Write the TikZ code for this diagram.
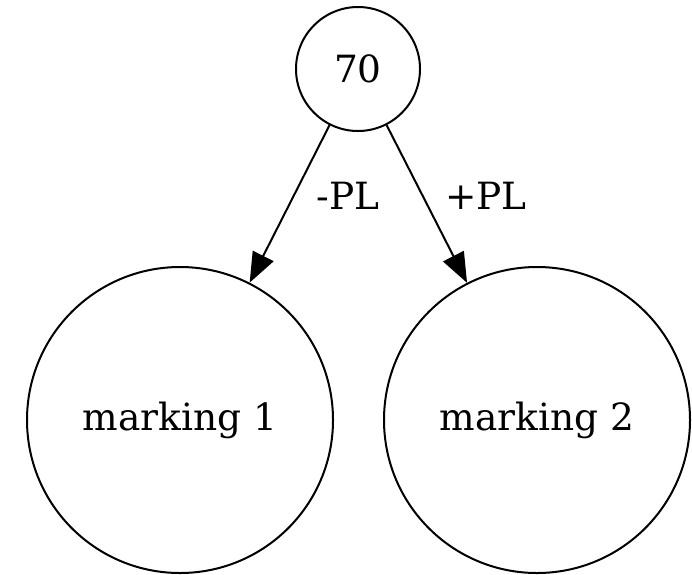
\documentclass[tikz,border=0pt]{standalone}
\usepackage{fontspec}
\setmainfont{DejaVu Serif}
\usetikzlibrary{arrows.meta}
\begin{document}
\begin{tikzpicture}[x=1pt,y=-1pt,
  state/.style={draw, circle, line width=2pt, inner sep=0pt, font=\fontsize{37.5}{42}\selectfont},
  edge/.style={line width=2pt, -{Triangle[length=30pt,width=23pt]}},
  elabel/.style={font=\fontsize{37.5}{42}\selectfont}]
  \useasboundingbox (0,0) rectangle (692,574);
  \node[state, minimum size=124pt] (top) at (358,69) {70};
  \node[state, minimum size=306pt] (m1) at (180,420) {marking 1};
  \node[state, minimum size=306pt] (m2) at (537,420) {marking 2};
  \draw[edge] (top) -- (m1);
  \draw[edge] (top) -- (m2);
  \node[elabel] (l1) at (348,196) {-PL};
  \node[elabel] (l2) at (486,196) {+PL};
\end{tikzpicture}
\end{document}
